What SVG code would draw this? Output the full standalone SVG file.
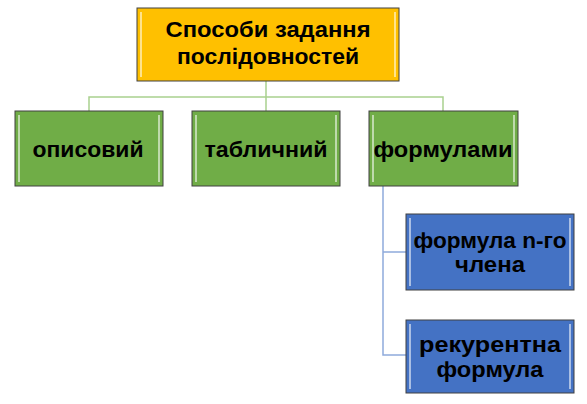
<svg xmlns="http://www.w3.org/2000/svg" width="587" height="404" viewBox="0 0 587 404">
<defs>
<style>
.t{font-family:"Liberation Sans",Arial,sans-serif;font-weight:bold;font-size:22px;fill:#000;text-anchor:middle}
.box{stroke:#404040;stroke-width:1}
.hl{fill:none;stroke:#ffffff;stroke-opacity:0.55;stroke-width:2}
.cg{fill:none;stroke:#A9D18E;stroke-width:1.5}
.cb{fill:none;stroke:#8FAADC;stroke-width:1.5}
</style>
</defs>
<g id="connectors">
<path class="cg" d="M266,81 V97 M89,111 V97 H443 V111 M266,97 V111"/>
<path class="cb" d="M383,186 V355 H406 M383,252 H406"/>
</g>
<g id="n0">
<rect class="box" x="137" y="8" width="262" height="73" fill="#FFC000"/>
<path class="hl" d="M141,12 V77 M395,12 V77"/>
<text class="t" x="268" y="37" textLength="205" lengthAdjust="spacingAndGlyphs">Способи задання</text>
<text class="t" x="268" y="64" textLength="182" lengthAdjust="spacingAndGlyphs">послідовностей</text>
</g>
<g id="n1">
<rect class="box" x="15" y="111" width="148" height="75" fill="#70AD47"/>
<path class="hl" d="M19,115 V182 M159,115 V182"/>
<text class="t" x="88" y="157" textLength="111" lengthAdjust="spacingAndGlyphs">описовий</text>
</g>
<g id="n2">
<rect class="box" x="192" y="111" width="148" height="75" fill="#70AD47"/>
<path class="hl" d="M196,115 V182 M336,115 V182"/>
<text class="t" x="266" y="157" textLength="123" lengthAdjust="spacingAndGlyphs">табличний</text>
</g>
<g id="n3">
<rect class="box" x="369" y="111" width="149" height="75" fill="#70AD47"/>
<path class="hl" d="M373,115 V182 M514,115 V182"/>
<text class="t" x="443" y="157" textLength="139" lengthAdjust="spacingAndGlyphs">формулами</text>
</g>
<g id="n4">
<rect class="box" x="406" y="214" width="168" height="76" fill="#4472C4"/>
<path class="hl" d="M410,218 V286 M570,218 V286"/>
<text class="t" x="490" y="248" textLength="153" lengthAdjust="spacingAndGlyphs">формула n-го</text>
<text class="t" x="490" y="272" textLength="70" lengthAdjust="spacingAndGlyphs">члена</text>
</g>
<g id="n5">
<rect class="box" x="406" y="320" width="168" height="73" fill="#4472C4"/>
<path class="hl" d="M410,324 V389 M570,324 V389"/>
<text class="t" x="490" y="352" textLength="142" lengthAdjust="spacingAndGlyphs">рекурентна</text>
<text class="t" x="490" y="377" textLength="107" lengthAdjust="spacingAndGlyphs">формула</text>
</g>
</svg>
